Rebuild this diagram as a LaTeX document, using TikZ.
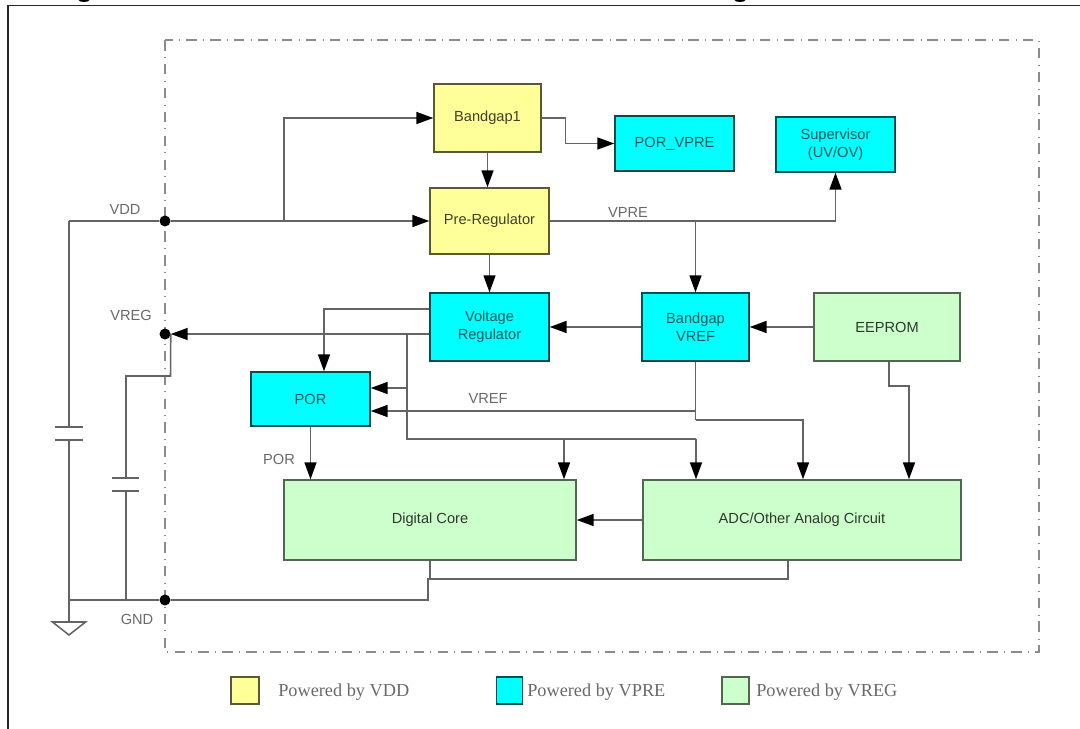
\documentclass[tikz,border=0pt]{standalone}
\usepackage{fontspec}
\setmainfont{Liberation Sans}
\newfontfamily\legendfont{Liberation Serif}
\usetikzlibrary{arrows.meta,calc}
\definecolor{vddfill}{RGB}{255,255,153}
\definecolor{vprefill}{RGB}{0,255,255}
\definecolor{vregfill}{RGB}{204,255,204}
\definecolor{wiregray}{RGB}{100,100,100}
\definecolor{labelgray}{RGB}{105,105,105}
\tikzset{
 block/.style={draw,line width=1pt,inner sep=0pt,align=center,font=\fontsize{10.4}{12.5}\selectfont},
 vddblock/.style={block,fill=vddfill,draw=black!65!vddfill,text=black!75!vddfill},
 vpreblock/.style={block,fill=vprefill,draw=black!70!vprefill,text=black!65!vprefill},
 vregblock/.style={block,fill=vregfill,draw=black!60!vregfill,text=black!78!vregfill},
 line/.style={draw=wiregray,line width=1.1pt},
 wire/.style={line,-{Triangle[length=12pt,width=8.5pt,color=black]}},
 dot/.style={circle,fill=black,inner sep=0pt,minimum size=0.275cm},
 netlabel/.style={text=labelgray,inner sep=0pt,font=\fontsize{10.4}{12.5}\selectfont},
 legendtext/.style={text=labelgray,inner sep=0pt,anchor=west,font=\legendfont\fontsize{13}{15}\selectfont},
 dashbox/.style={draw=black!45,line width=1.2pt,dash pattern=on 7.5pt off 4.4pt on 0.3pt off 4.8pt},
}
\begin{document}
\begin{tikzpicture}[x=0.025cm,y=-0.025cm]
\useasboundingbox (0,0) rectangle (1080,729);
\fill (84,0) ellipse [x radius=5.5, y radius=2];
\fill (740,0) ellipse [x radius=5.5, y radius=2];
\draw[line width=1.3pt,black!85] (1080,5.5) -- (8,5.5) -- (8,729);
\draw[dashbox] (165,40) rectangle (1039,652);
\node[vddblock,minimum width=2.675cm,minimum height=1.7cm] (bandgap1) at (487.5,118) {Bandgap1};
\node[vpreblock,minimum width=2.975cm,minimum height=1.375cm] (porvpre) at (674.5,143.5) {POR\_VPRE};
\node[vpreblock,minimum width=2.975cm,minimum height=1.375cm] (supervisor) at (835.5,144.5) {Supervisor\\(UV/OV)};
\node[vddblock,minimum width=2.975cm,minimum height=1.65cm] (prereg) at (489.5,221) {Pre-Regulator};
\node[vpreblock,minimum width=2.975cm,minimum height=1.7cm] (vreg) at (489.5,327) {Voltage\\Regulator};
\node[vpreblock,minimum width=2.675cm,minimum height=1.7cm] (bandgapvref) at (695.5,327) {Bandgap\\VREF};
\node[vregblock,minimum width=3.65cm,minimum height=1.7cm] (eeprom) at (887,327) {EEPROM};
\node[vpreblock,minimum width=2.975cm,minimum height=1.35cm] (por) at (310.5,399) {POR};
\node[vregblock,minimum width=7.3cm,minimum height=2cm] (digital) at (430,520) {Digital Core};
\node[vregblock,minimum width=7.95cm,minimum height=2cm] (adc) at (802,520) {ADC/Other Analog Circuit};
\node[dot] (vdddot) at (165,221) {};
\node[dot] (vregdot) at (165,334) {};
\node[dot] (gnddot) at (165,600) {};
\node[netlabel] (vddlabel) at (125,209) {VDD};
\node[netlabel] (vreglabel) at (131,315) {VREG};
\node[netlabel] (gndlabel) at (137,619) {GND};
\node[netlabel] (vprelabel) at (628,212) {VPRE};
\node[netlabel] (vreflabel) at (488,398) {VREF};
\node[netlabel] (porlabel) at (279,459) {POR};
\coordinate (vddcorner) at (69,221);
\coordinate (vddtap) at (284,221);
\coordinate (c1top) at (69,427);
\coordinate (c1bot) at (69,440);
\coordinate (gndcorner) at (69,600);
\coordinate (gndtop) at (69,622);
\coordinate (c2corner) at (170.5,376);
\coordinate (c2left) at (126,376);
\coordinate (c2top) at (126,478);
\coordinate (c2bot) at (126,491);
\coordinate (c2end) at (126,600);
\draw[line] (vddcorner) -- (vdddot);
\draw[wire] (vdddot) -- (prereg.west);
\draw[wire] (vddtap) |- (bandgap1.west);
\draw[line] (vddcorner) -- (c1top);
\draw[line] (c1bot) -- (gndtop);
\draw[line] ($(c1top)+(-14,0)$) -- ($(c1top)+(14,0)$);
\draw[line] ($(c1bot)+(-14,0)$) -- ($(c1bot)+(14,0)$);
\draw[line] (gndtop) +(-16.5,0) -- +(0,13) -- +(16.5,0) -- cycle;
\draw[line] (gndcorner) -- (gnddot);
\draw[line] (vregdot.east) -- (c2corner) -- (c2left) -- (c2top);
\draw[line] (c2bot) -- (c2end);
\draw[line] ($(c2top)+(-14,0)$) -- ($(c2top)+(13,0)$);
\draw[line] ($(c2bot)+(-14,0)$) -- ($(c2bot)+(13,0)$);
\draw[wire] (bandgap1.south) -- (bandgap1.south |- prereg.north);
\draw[wire] (bandgap1.east) -- ++(24,0) |- (porvpre.west);
\draw[wire] (prereg.south) -- (vreg.north);
\draw[wire] (prereg.east) -| (supervisor.south);
\coordinate (vpretap) at (695.5,221);
\draw[wire] (vpretap) -- (bandgapvref.north);
\draw[wire] (eeprom.west) -- (bandgapvref.east);
\draw[wire] (bandgapvref.west) -- (vreg.east);
\coordinate (vregtop) at (324,309);
\draw[wire] (vreg.west |- vregtop) -- (vregtop) -- (por.north -| vregtop);
\draw[wire] (vreg.west |- vregdot) -- (vregdot);
\coordinate (vregtap) at (407,334);
\coordinate (porin) at (407,388);
\coordinate (busleft) at (407,439);
\coordinate (busmid) at (564,439);
\coordinate (busright) at (696,439);
\draw[wire] (vregtap) -- (porin) -- (por.east |- porin);
\draw[line] (porin) -- (busleft) -- (busright);
\draw[wire] (busmid) -- (busmid |- digital.north);
\draw[wire] (busright) -- (busright |- adc.north);
\coordinate (vrefdown) at (695.5,411);
\coordinate (vrefknee) at (695.5,420);
\coordinate (vrefright) at (803,420);
\draw[line] (bandgapvref.south) -- (vrefknee);
\draw[wire] (vrefdown) -- (por.east |- vrefdown);
\draw[wire] (vrefknee) -- (vrefright) -- (vrefright |- adc.north);
\coordinate (eepromknee) at (889,386);
\coordinate (eepromright) at (909,386);
\draw[wire] (eepromknee |- eeprom.south) -- (eepromknee) -- (eepromright) -- (eepromright |- adc.north);
\draw[wire] (por.south) -- (por.south |- digital.north);
\draw[wire] (adc.west) -- (digital.east);
\coordinate (gndknee) at (428,600);
\coordinate (gndup) at (428,579);
\coordinate (gndadc) at (788,579);
\draw[line] (gnddot) -- (gndknee) -- (gndup) -- (gndadc) -- (gndadc |- adc.south);
\draw[line] (gndup -| digital.south) -- (digital.south);
\node[vddblock,minimum width=0.7cm,minimum height=0.675cm] (legendvdd) at (245,690.5) {};
\node[legendtext] (legendvddtext) at (278,692) {Powered by VDD};
\node[vpreblock,minimum width=0.66cm,minimum height=0.675cm] (legendvpre) at (509.5,690.5) {};
\node[legendtext] (legendvpretext) at (527,692) {Powered by VPRE};
\node[vregblock,minimum width=0.675cm,minimum height=0.675cm] (legendvreg) at (735.5,690.5) {};
\node[legendtext] (legendvregtext) at (756,692) {Powered by VREG};
\end{tikzpicture}
\end{document}
